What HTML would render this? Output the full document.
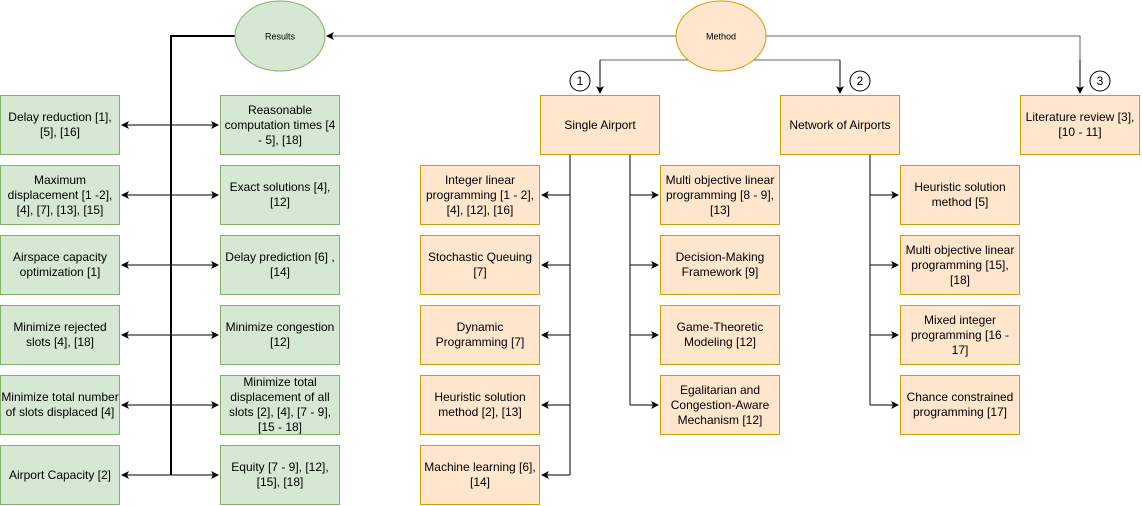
<!DOCTYPE html>
<html><head><style>
body{margin:0;width:1142px;height:506px;background:#fff;position:relative;overflow:hidden;font-family:"Liberation Sans",sans-serif}
.b{position:absolute;width:118px;height:58px;display:flex;align-items:center;justify-content:center;text-align:center;font-size:12px;line-height:15px;color:#000;box-sizing:content-box}
.g{background:#d5e8d4;border:1px solid #82b366}
.o{background:#ffe6cc;border:1px solid #d79b00}
svg{position:absolute;left:0;top:0}
</style></head><body>
<svg width="1142" height="506">
<defs><marker id="a" markerWidth="8" markerHeight="8" refX="7" refY="4" orient="auto-start-reverse" markerUnits="userSpaceOnUse"><path d="M0,0 L8,4 L0,8 L2,4z" fill="#000"/></marker></defs>
<g fill="none" stroke="#000" stroke-width="1">
<path d="M676,36 H327" stroke="#666" marker-end="url(#a)"/>
<path d="M766,36 H1080 V93" stroke="#666"/>
<path d="M1080,60 V93" marker-end="url(#a)"/>
<path d="M600,60 H840" stroke="#666"/>
<path d="M600,60 V93" marker-end="url(#a)"/>
<path d="M840,60 V93" marker-end="url(#a)"/>
<path d="M235,36 H171 V475" stroke-width="2"/>
<path d="M122,125 H218" marker-start="url(#a)" marker-end="url(#a)"/>
<path d="M122,195 H218" marker-start="url(#a)" marker-end="url(#a)"/>
<path d="M122,265 H218" marker-start="url(#a)" marker-end="url(#a)"/>
<path d="M122,335 H218" marker-start="url(#a)" marker-end="url(#a)"/>
<path d="M122,405 H218" marker-start="url(#a)" marker-end="url(#a)"/>
<path d="M122,475 H218" marker-start="url(#a)" marker-end="url(#a)"/>
<path d="M570,155 V475"/>
<path d="M570,195 H542" marker-end="url(#a)"/>
<path d="M570,265 H542" marker-end="url(#a)"/>
<path d="M570,335 H542" marker-end="url(#a)"/>
<path d="M570,405 H542" marker-end="url(#a)"/>
<path d="M570,475 H542" marker-end="url(#a)"/>
<path d="M630,155 V405"/>
<path d="M630,195 H658" marker-end="url(#a)"/>
<path d="M630,265 H658" marker-end="url(#a)"/>
<path d="M630,335 H658" marker-end="url(#a)"/>
<path d="M630,405 H658" marker-end="url(#a)"/>
<path d="M870,155 V405"/>
<path d="M870,195 H898" marker-end="url(#a)"/>
<path d="M870,265 H898" marker-end="url(#a)"/>
<path d="M870,335 H898" marker-end="url(#a)"/>
<path d="M870,405 H898" marker-end="url(#a)"/>
</g>
<ellipse cx="280" cy="36" rx="45" ry="35" fill="#d5e8d4" stroke="#82b366"/>
<ellipse cx="721" cy="36" rx="45" ry="35" fill="#ffe6cc" stroke="#d79b00"/>
<text x="280" y="39.5" font-size="9" text-anchor="middle" font-family="Liberation Sans,sans-serif">Results</text>
<text x="721" y="39.5" font-size="9" text-anchor="middle" font-family="Liberation Sans,sans-serif">Method</text>
<g fill="#fff" stroke="#000"><circle cx="580" cy="81" r="10"/><circle cx="860" cy="81" r="10"/><circle cx="1100" cy="81" r="10"/></g>
<g font-size="12" text-anchor="middle" font-family="Liberation Sans,sans-serif"><text x="580" y="85">1</text><text x="860" y="85">2</text><text x="1100" y="85">3</text></g>
</svg>
<div class="b g" style="left:0;top:95px">Delay reduction [1], [5], [16]</div>
<div class="b g" style="left:0;top:165px">Maximum displacement [1 -2], [4], [7], [13], [15]</div>
<div class="b g" style="left:0;top:235px">Airspace capacity optimization [1]</div>
<div class="b g" style="left:0;top:305px">Minimize rejected slots [4], [18]</div>
<div class="b g" style="left:0;top:375px">Minimize total number of slots displaced [4]</div>
<div class="b g" style="left:0;top:445px">Airport Capacity [2]</div>
<div class="b g" style="left:220px;top:95px">Reasonable computation times [4 - 5], [18]</div>
<div class="b g" style="left:220px;top:165px">Exact solutions [4], [12]</div>
<div class="b g" style="left:220px;top:235px">Delay prediction [6] , [14]</div>
<div class="b g" style="left:220px;top:305px">Minimize congestion [12]</div>
<div class="b g" style="left:220px;top:375px">Minimize total displacement of all slots [2], [4], [7 - 9], [15 - 18]</div>
<div class="b g" style="left:220px;top:445px">Equity [7 - 9], [12], [15], [18]</div>
<div class="b o" style="left:540px;top:95px">Single Airport</div>
<div class="b o" style="left:780px;top:95px">Network of Airports</div>
<div class="b o" style="left:1020px;top:95px">Literature review [3], [10 - 11]</div>
<div class="b o" style="left:420px;top:165px">Integer linear programming [1 - 2], [4], [12], [16]</div>
<div class="b o" style="left:420px;top:235px">Stochastic Queuing [7]</div>
<div class="b o" style="left:420px;top:305px">Dynamic Programming [7]</div>
<div class="b o" style="left:420px;top:375px">Heuristic solution method [2], [13]</div>
<div class="b o" style="left:420px;top:445px">Machine learning [6], [14]</div>
<div class="b o" style="left:660px;top:165px">Multi objective linear programming [8 - 9], [13]</div>
<div class="b o" style="left:660px;top:235px">Decision-Making Framework [9]</div>
<div class="b o" style="left:660px;top:305px">Game-Theoretic Modeling [12]</div>
<div class="b o" style="left:660px;top:375px">Egalitarian and Congestion-Aware Mechanism [12]</div>
<div class="b o" style="left:900px;top:165px">Heuristic solution method [5]</div>
<div class="b o" style="left:900px;top:235px">Multi objective linear programming [15], [18]</div>
<div class="b o" style="left:900px;top:305px">Mixed integer programming [16 - 17]</div>
<div class="b o" style="left:900px;top:375px">Chance constrained programming [17]</div>
</body></html>
